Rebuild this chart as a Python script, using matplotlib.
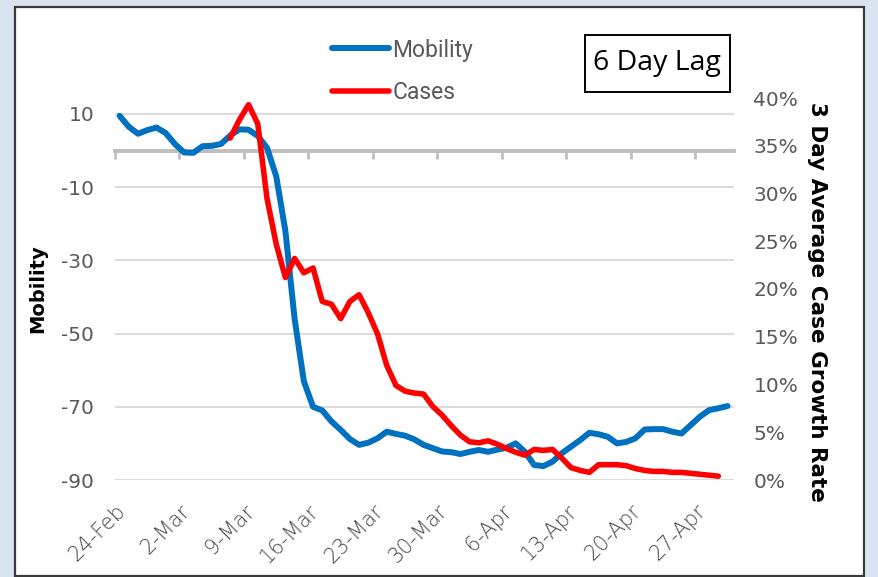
import numpy as np
import pandas as pd
import matplotlib
matplotlib.use("Agg")
import matplotlib.pyplot as plt
import matplotlib.dates as mdates
from matplotlib.patches import Rectangle
from matplotlib.ticker import PercentFormatter
from matplotlib.transforms import ScaledTranslation

plt.rcParams["axes.unicode_minus"] = False

# Daily data, 24-Feb to 30-Apr (mobility) and 7-Mar to 29-Apr (cases, 6 day lag)
dias = pd.date_range("2020-02-24", "2020-04-30", freq="D")
mobilidade = [9.5, 6.5, 4.6, 5.6, 6.3, 4.8, 1.8, -0.5, -0.6, 1.2,
              1.3, 1.8, 4.1, 5.8, 5.7, 4.0, 0.8, -7.0, -22.0, -46.0,
              -63.0, -70.0, -71.0, -74.0, -76.3, -78.8, -80.4, -79.8, -78.6, -76.8,
              -77.4, -77.9, -78.9, -80.4, -81.3, -82.2, -82.4, -82.9, -82.3, -81.8,
              -82.3, -81.7, -81.2, -80.0, -82.3, -85.9, -86.2, -85.0, -82.7, -80.9,
              -79.1, -77.1, -77.5, -78.2, -80.0, -79.6, -78.6, -76.2, -76.1, -76.1,
              -76.8, -77.3, -75.0, -72.7, -70.9, -70.4, -69.8]

dias_casos = pd.date_range("2020-03-07", "2020-04-29", freq="D")
casos = [35.8, 37.7, 39.3, 37.3, 29.5, 24.7, 21.2, 23.2, 21.7, 22.2,
         18.7, 18.4, 16.9, 18.7, 19.4, 17.5, 15.3, 12.0, 9.9, 9.3,
         9.1, 9.0, 7.7, 6.8, 5.7, 4.7, 4.0, 3.9, 4.1, 3.75,
         3.3, 2.9, 2.6, 3.2, 3.1, 3.2, 2.3, 1.3, 1.0, 0.8,
         1.6, 1.6, 1.6, 1.5, 1.2, 1.0, 0.9, 0.9, 0.8, 0.8,
         0.7, 0.6, 0.5, 0.4]

semanas = pd.date_range("2020-02-24", "2020-04-27", freq="7D")
rotulos = [f"{d.day}-{d:%b}" for d in semanas]

CINZA = "#595959"
AZUL = "#0070C0"
VERMELHO = "#FF0000"
FONTE = ["DejaVu Sans"]

fig = plt.figure(figsize=(8.79, 5.77), dpi=100)
fig.patch.set_facecolor("#dae3f0")
fig.add_artist(Rectangle((15 / 879, 1 / 577), 849 / 879, 569 / 577,
                         transform=fig.transFigure, facecolor="white",
                         edgecolor="#3a3a3a", linewidth=1.6, zorder=-1))

ax = fig.add_axes([115 / 879, 1 - 480 / 577, 619 / 879, 382 / 577])
ax.set_facecolor("none")
ax2 = ax.twinx()

x = mdates.date2num(dias)
x_casos = mdates.date2num(dias_casos)
ax.plot(x, mobilidade, color=AZUL, lw=4.3, solid_capstyle="round",
        solid_joinstyle="round", label="Mobility", zorder=3)
ax2.plot(x_casos, casos, color=VERMELHO, lw=4.0, solid_capstyle="round",
         solid_joinstyle="round", label="Cases")

# eixo x "entre marcas", como no Excel
x0 = mdates.date2num(dias[0]) - 0.5
ax.set_xlim(x0, x0 + 67.2)
pos_semanas = mdates.date2num(semanas) - 0.5

ax.set_ylim(-90, 14.37)
ax.set_yticks(np.arange(-90, 11, 20))
ax2.set_ylim(0, 40)
ax2.set_yticks(np.arange(0, 41, 5))
ax2.yaxis.set_major_formatter(PercentFormatter(xmax=100, decimals=0))

ax.grid(axis="y", color="#d9d9d9", lw=1.3)
ax.set_axisbelow(True)

for a in (ax, ax2):
    for s in a.spines.values():
        s.set_visible(False)

ax.set_xticks(pos_semanas)
ax.set_xticklabels(rotulos, rotation=45, ha="right", va="top",
                   rotation_mode="anchor", color="#454545", fontsize=15,
                   family=FONTE, fontweight="ultralight")
desloc = ScaledTranslation(5 / 100, 0, fig.dpi_scale_trans)
for t in ax.get_xticklabels():
    t.set_transform(t.get_transform() + desloc)
ax.tick_params(axis="x", length=0, pad=15)
ax.tick_params(axis="y", length=0, pad=15, labelcolor=CINZA, labelsize=14.5)
ax2.tick_params(axis="y", length=0, pad=14, labelcolor=CINZA, labelsize=14.5)
for t in ax.get_yticklabels() + ax2.get_yticklabels():
    t.set_family(FONTE)

# linha do eixo horizontal no zero
eixo0 = ax.secondary_xaxis(0, transform=ax.transData)
eixo0.set_xticks(pos_semanas)
eixo0.tick_params(length=6, width=2, color="#bfbfbf", labelbottom=False)
eixo0.spines["bottom"].set_color("#bfbfbf")
eixo0.spines["bottom"].set_linewidth(2.8)

ax.set_ylabel("Mobility", fontsize=14, fontweight="bold", family=FONTE)
ax.yaxis.set_label_coords(-0.11, 0.5)
ax2.set_ylabel("3 Day Average Case Growth Rate", fontsize=15.5,
               fontweight="bold", rotation=270, va="bottom", family=FONTE)
ax2.yaxis.set_label_coords(1.118, 0.466)

linhas = ax.get_lines() + ax2.get_lines()
fig.legend(linhas, [l.get_label() for l in linhas], loc="upper left",
           bbox_to_anchor=(332 / 879, 1 - 38.5 / 577), frameon=False,
           borderpad=0, borderaxespad=0, handlelength=2.5, handletextpad=0.13,
           labelspacing=0.86, labelcolor=CINZA,
           prop={"family": ["Roboto", "DejaVu Sans"], "size": 16.5})

fig.add_artist(Rectangle((585 / 879, 1 - 92 / 577), 145 / 879, 57 / 577,
                         transform=fig.transFigure, facecolor="white",
                         edgecolor="black", linewidth=1.4))
fig.text(657.5 / 879, 1 - 63 / 577, "6 Day Lag", ha="center", va="center",
         fontsize=20.5, family=["Open Sans", "DejaVu Sans"])

plt.savefig("out.png", dpi=100, facecolor=fig.get_facecolor())
